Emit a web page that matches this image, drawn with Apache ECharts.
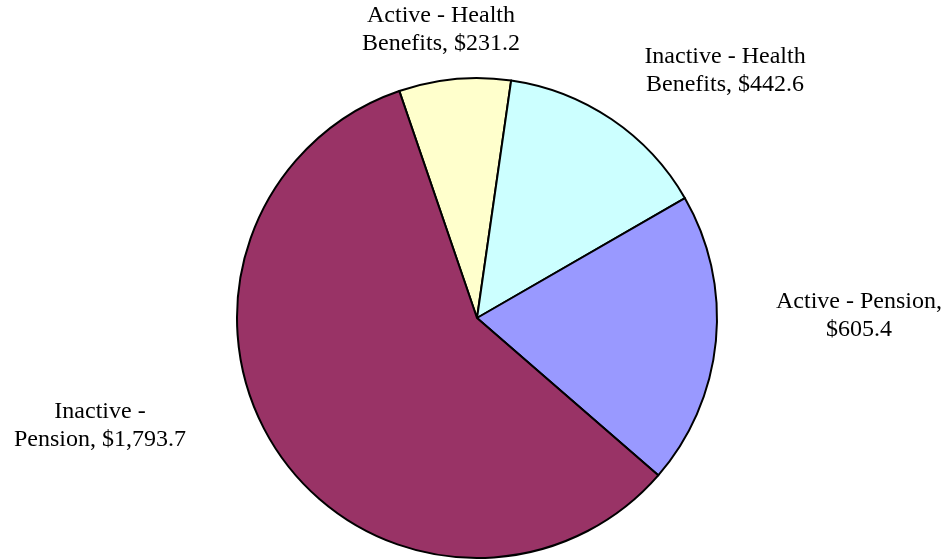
<!DOCTYPE html>
<html>
<head>
<meta charset="utf-8">
<script src="https://cdn.jsdelivr.net/npm/echarts@6/dist/echarts.min.js"></script>
<style>
html,body{margin:0;padding:0;background:#fff;}
#chart{width:949px;height:560px;}
</style>
</head>
<body>
<div id="chart"></div>
<script>
var categories = ['Active - Health Benefits', 'Inactive - Health Benefits', 'Active - Pension', 'Inactive - Pension'];
var values = [231.2, 442.6, 605.4, 1793.7];
var labelTexts = ['Active - Health\nBenefits, $231.2', 'Inactive - Health\nBenefits, $442.6', 'Active - Pension,\n$605.4', 'Inactive -\nPension, $1,793.7'];
var colors = ['#FFFFCC', '#CCFFFF', '#9999FF', '#993366'];
// label anchor positions (style, not data)
var labelPos = [[441, 30], [725, 71], [859, 316], [100, 426]];

var chart = echarts.init(document.getElementById('chart'), null, {renderer: 'canvas'});
var data = categories.map(function (c, i) {
  return {name: c, value: values[i], itemStyle: {color: colors[i]}};
});
chart.setOption({
  animation: false,
  backgroundColor: '#ffffff',
  series: [{
    type: 'pie',
    center: [477, 318],
    radius: [0, 240],
    startAngle: 108.9,
    clockwise: true,
    data: data,
    itemStyle: {borderColor: '#000', borderWidth: 2},
    emphasis: {disabled: true},
    label: {
      show: true,
      position: 'outside',
      formatter: function (p) { return labelTexts[p.dataIndex]; },
      fontFamily: '"Liberation Serif", "Times New Roman", serif',
      fontSize: 24,
      lineHeight: 28,
      color: '#000',
      align: 'center'
    },
    labelLine: {show: false},
    labelLayout: function (params) {
      var p = labelPos[params.dataIndex];
      return {x: p[0], y: p[1], align: 'center', verticalAlign: 'middle'};
    }
  }]
});
</script>
</body>
</html>
